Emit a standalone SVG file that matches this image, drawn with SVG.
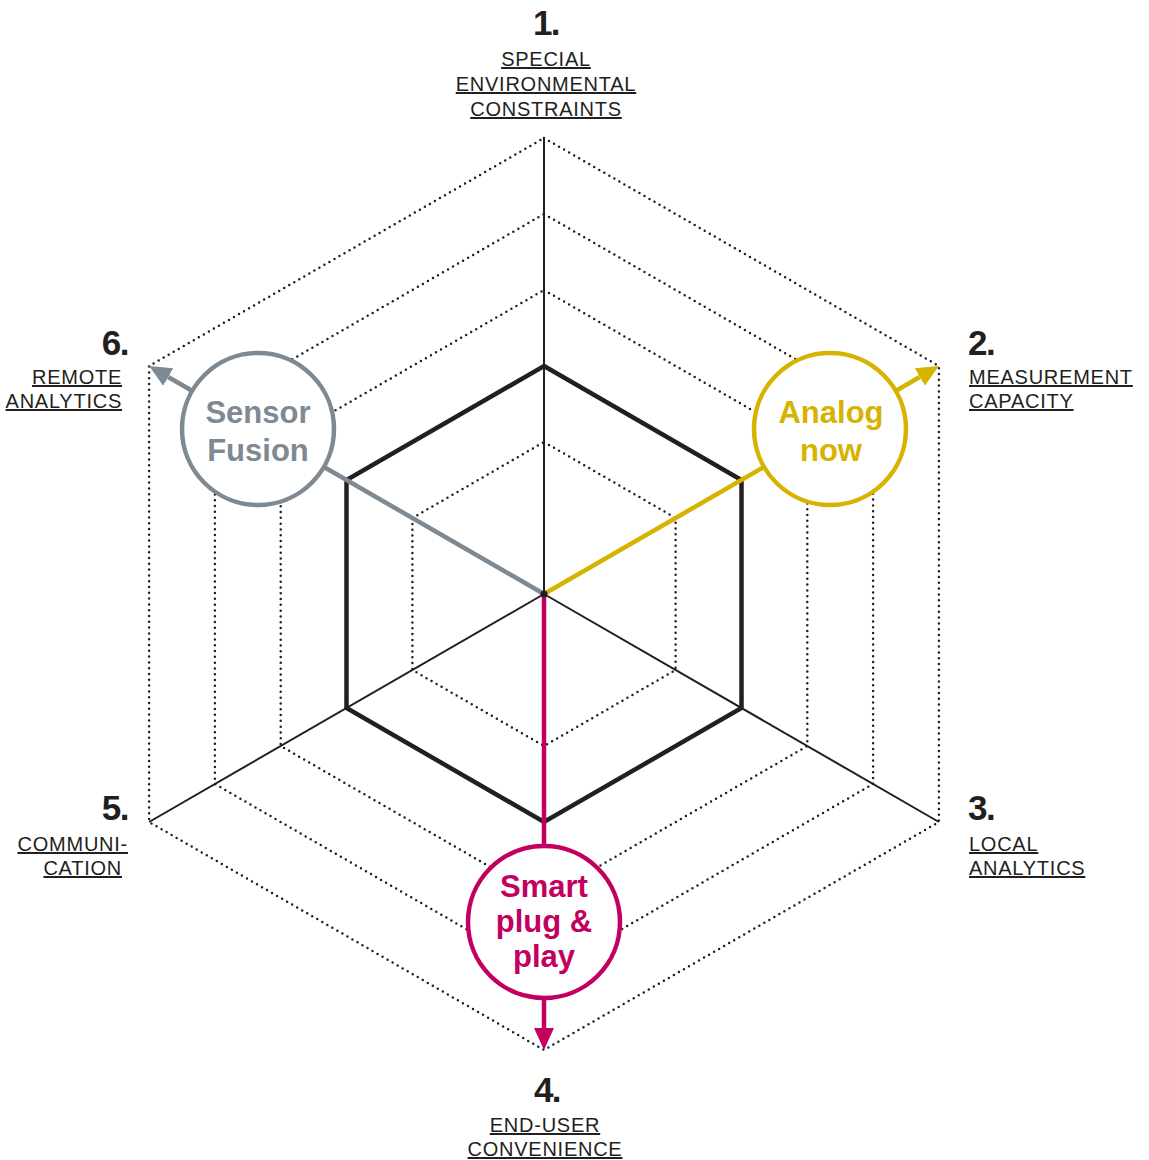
<svg xmlns="http://www.w3.org/2000/svg" width="1149" height="1160" viewBox="0 0 1149 1160">
<style>
.dot{fill:none;stroke:#231f20;stroke-width:2.5;stroke-linecap:round;stroke-dasharray:0 5.8}
.axis{stroke:#231f20;stroke-width:2;fill:none}
.thick{fill:none;stroke:#231f20;stroke-width:4.5;stroke-linejoin:miter}
.num{font-family:"Liberation Sans",Arial,sans-serif;font-weight:bold;font-size:35px;fill:#231f20;letter-spacing:-1.5px}
.lbl{font-family:"Liberation Sans",Arial,sans-serif;font-size:20px;fill:#231f20;text-decoration:underline;letter-spacing:0.75px}
.ct{font-family:"Liberation Sans",Arial,sans-serif;font-weight:bold;font-size:31px;text-anchor:middle}
.gray{stroke:#7e8991;fill:#7e8991}
.yel{stroke:#d5b300;fill:#d5b300}
.mag{stroke:#c3005f;fill:#c3005f}
</style>
<defs>
<marker id="ag" markerUnits="userSpaceOnUse" markerWidth="24" markerHeight="22" refX="0" refY="11" orient="auto" viewBox="0 0 24 22"><path d="M0,1 L22,11 L0,21 z" fill="#7e8991"/></marker>
<marker id="ay" markerUnits="userSpaceOnUse" markerWidth="24" markerHeight="22" refX="0" refY="11" orient="auto" viewBox="0 0 24 22"><path d="M0,1 L22,11 L0,21 z" fill="#d5b300"/></marker>
<marker id="am" markerUnits="userSpaceOnUse" markerWidth="24" markerHeight="22" refX="0" refY="11" orient="auto" viewBox="0 0 24 22"><path d="M0,1 L22,11 L0,21 z" fill="#c3005f"/></marker>
</defs>
<rect width="1149" height="1160" fill="#fff"/>
<g id="grid">
<polygon class="dot" points="544,138 938.9,366 938.9,822 544,1050 149.1,822 149.1,366"/>
<polygon class="dot" points="544,214 873.1,404 873.1,784 544,974 214.9,784 214.9,404"/>
<polygon class="dot" points="544,290 807.3,442 807.3,746 544,898 280.7,746 280.7,442"/>
<polygon class="dot" points="544,442 675.6,518 675.6,670 544,746 412.4,670 412.4,518"/>
<line class="axis" x1="544" y1="594" x2="544" y2="138"/>
<line class="axis" x1="544" y1="594" x2="938.9" y2="822"/>
<line class="axis" x1="544" y1="594" x2="149.1" y2="822"/>
<polygon class="thick" points="544,366 741.5,480 741.5,708 544,822 346.5,708 346.5,480"/>
</g>
<g id="connectors" fill="none" stroke-width="4.5">
<line class="gray" x1="544" y1="594" x2="324" y2="467"/>
<line class="gray" x1="192.4" y1="391" x2="168.2" y2="377" marker-end="url(#ag)"/>
<line class="yel" x1="544" y1="594" x2="764" y2="467"/>
<line class="yel" x1="895.6" y1="391" x2="919.8" y2="377" marker-end="url(#ay)"/>
<line class="mag" x1="544" y1="594" x2="544" y2="848"/>
<line class="mag" x1="544" y1="998" x2="544" y2="1028" marker-end="url(#am)"/>
<circle cx="544" cy="594" r="3.5" fill="#231f20"/>
</g>
<g id="node-sensor-fusion">
<circle cx="258" cy="429" r="76" fill="#fff" stroke="#7e8991" stroke-width="4.5"/>
<text class="ct" x="258" y="423" fill="#7e8991">Sensor</text>
<text class="ct" x="258" y="461" fill="#7e8991">Fusion</text>
</g>
<g id="node-analog-now">
<circle cx="830" cy="429" r="76" fill="#fff" stroke="#d5b300" stroke-width="4.5"/>
<text class="ct" x="831" y="423" fill="#d5b300">Analog</text>
<text class="ct" x="831" y="461" fill="#d5b300">now</text>
</g>
<g id="node-smart-plug-play">
<circle cx="544" cy="922" r="76" fill="#fff" stroke="#c3005f" stroke-width="4.5"/>
<text class="ct" x="544" y="897" fill="#c3005f">Smart</text>
<text class="ct" x="544" y="932" fill="#c3005f">plug &amp;</text>
<text class="ct" x="544" y="967" fill="#c3005f">play</text>
</g>
<g id="label-1" text-anchor="middle">
<text class="num" x="546" y="35">1.</text>
<text class="lbl" x="546" y="66">SPECIAL</text>
<text class="lbl" x="546" y="91">ENVIRONMENTAL</text>
<text class="lbl" x="546" y="116">CONSTRAINTS</text>
</g>
<g id="label-2">
<text class="num" x="968" y="355">2.</text>
<text class="lbl" x="969" y="384">MEASUREMENT</text>
<text class="lbl" x="969" y="408">CAPACITY</text>
</g>
<g id="label-3">
<text class="num" x="968" y="820">3.</text>
<text class="lbl" x="969" y="851">LOCAL</text>
<text class="lbl" x="969" y="875">ANALYTICS</text>
</g>
<g id="label-4" text-anchor="middle">
<text class="num" x="547" y="1102">4.</text>
<text class="lbl" x="545" y="1132">END-USER</text>
<text class="lbl" x="545" y="1156">CONVENIENCE</text>
</g>
<g id="label-5" text-anchor="end">
<text class="num" x="128" y="820">5.</text>
<text class="lbl" x="128" y="851">COMMUNI-</text>
<text class="lbl" x="122" y="875">CATION</text>
</g>
<g id="label-6" text-anchor="end">
<text class="num" x="128" y="355">6.</text>
<text class="lbl" x="122" y="384">REMOTE</text>
<text class="lbl" x="122" y="408">ANALYTICS</text>
</g>
</svg>
